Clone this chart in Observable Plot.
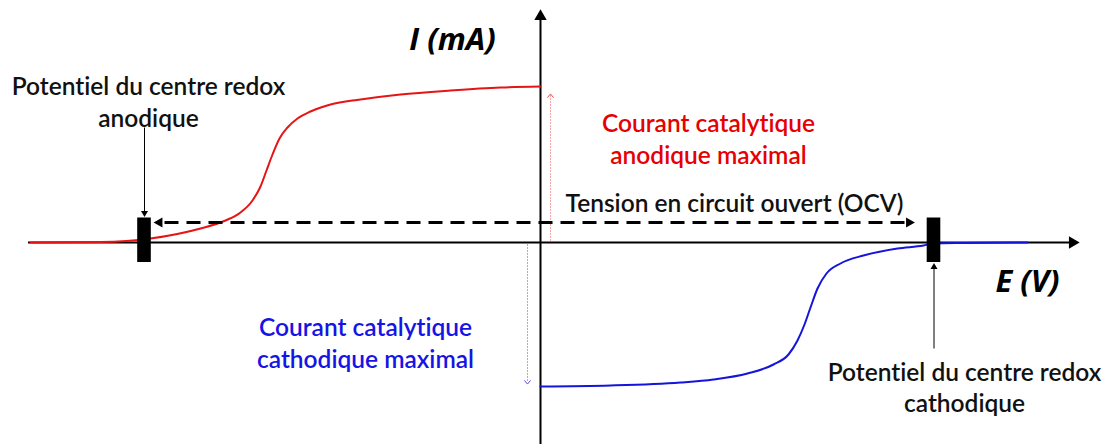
<!DOCTYPE html>
<html>
<head>
<meta charset="utf-8">
<script src="https://cdn.jsdelivr.net/npm/d3@7"></script>
<script src="https://cdn.jsdelivr.net/npm/@observablehq/plot@0.6"></script>
<style>
  html, body { margin: 0; padding: 0; background: #fff; }
  #chart svg { display: block; font-variant-ligatures: none; }
</style>
</head>
<body>
<div id="chart"></div>
<script>
// ---- Data (arbitrary units: E in V-like units, I in mA-like units) ----
// Anodic (red) catalytic wave
const anodicE = [-5.10, -4.40, -3.90, -3.40, -3.15, -3.00, -2.88, -2.80, -2.74, -2.68, -2.61, -2.53, -2.43, -2.30, -2.10, -1.80, -1.40, -0.90, -0.40, 0.00];
const anodicI = [0.00, 0.005, 0.04, 0.14, 0.22, 0.30, 0.42, 0.56, 0.72, 0.88, 1.04, 1.15, 1.24, 1.31, 1.38, 1.43, 1.48, 1.52, 1.55, 1.56];
// Cathodic (blue) catalytic wave
const cathodicE = [0.00, 0.70, 1.40, 1.73, 2.07, 2.33, 2.48, 2.57, 2.64, 2.70, 2.77, 2.86, 3.00, 3.23, 3.57, 3.83, 3.93, 4.23, 4.87];
const cathodicI = [-1.44, -1.43, -1.40, -1.37, -1.31, -1.22, -1.12, -0.98, -0.82, -0.65, -0.46, -0.31, -0.21, -0.13, -0.06, -0.03, -0.01, -0.005, 0.00];
// Redox centre potentials (markers) and OCV arrow level
const redoxPotentials = [-3.96, 3.935];
const ocvLevel = 0.20;
// Maximum catalytic currents
const maxAnodic = 1.47;
const maxCathodic = -1.40;

// Annotation texts
const axisTitles = ["I (mA)", "E (V)"];
const axisTitleE = [-0.88, 4.87];
const axisTitleI = [2.02, -0.40];
const labelTexts = [
  "Potentiel du centre redox\nanodique",
  "Courant catalytique\nanodique maximal",
  "Tension en circuit ouvert (OCV)",
  "Courant catalytique\ncathodique maximal",
  "Potentiel du centre redox\ncathodique"
];
const labelE = [-3.92, 1.68, 1.94, -1.75, 4.24];
const labelI = [1.42, 1.047, 0.407, -0.993, -1.438];
const labelColors = ["#111", "#e60000", "#111", "#1414e6", "#111"];

// ---- Build tables ----
const anodic = anodicE.map((e, i) => ({E: e, I: anodicI[i]}));
const cathodic = cathodicE.map((e, i) => ({E: e, I: cathodicI[i]}));
const labels = labelTexts.map((t, i) => ({t, E: labelE[i], I: labelI[i], c: labelColors[i]}));
const titles = axisTitles.map((t, i) => ({t, E: axisTitleE[i], I: axisTitleI[i]}));

const chevron = {
  draw(ctx, size) {
    const s = Math.sqrt(size) / 2;
    ctx.moveTo(-s, s * 0.7);
    ctx.lineTo(0, -s * 0.5);
    ctx.lineTo(s, s * 0.7);
  }
};

const chart = Plot.plot({
  width: 1109,
  height: 444,
  margin: 0,
  x: {domain: [-5.40, 5.69], axis: null},
  y: {domain: [-2.02, 2.42], axis: null},
  style: {background: "white", fontFamily: "Lato, sans-serif"},
  marks: [
    // dotted max-current arrows
    Plot.link([maxAnodic], {x1: 0.10, x2: 0.10, y1: 0.02, y2: d => d, stroke: "#e85050", strokeWidth: 1, strokeDasharray: "1,2"}),
    Plot.dot([maxAnodic], {x: 0.10, y: d => d, symbol: chevron, r: 3.5, fill: "none", stroke: "#e85050", strokeWidth: 1}),
    Plot.link([maxCathodic], {x1: -0.13, x2: -0.13, y1: -0.02, y2: d => d, stroke: "#5050e0", strokeWidth: 1, strokeDasharray: "1,2"}),
    Plot.dot([maxCathodic], {x: -0.13, y: d => d, symbol: chevron, rotate: 180, r: 3.5, fill: "none", stroke: "#5050e0", strokeWidth: 1}),
    // axes
    Plot.ruleY([0], {x1: -5.12, x2: 5.30, stroke: "#000", strokeWidth: 2}),
    Plot.ruleX([0], {y1: -2.02, y2: 2.26, stroke: "#000", strokeWidth: 2}),
    Plot.dot([0], {x: 5.32, y: 0, symbol: "triangle", rotate: 90, r: 4.6, fill: "#000"}),
    Plot.dot([0], {x: 0, y: 2.26, symbol: "triangle", r: 4.6, fill: "#000"}),
    // curves
    Plot.line(anodic, {x: "E", y: "I", stroke: "#e61414", strokeWidth: 2, curve: "monotone-x"}),
    Plot.line(cathodic, {x: "E", y: "I", stroke: "#1414dc", strokeWidth: 2, curve: "monotone-x"}),
    // OCV dashed double arrow
    Plot.link([ocvLevel], {x1: redoxPotentials[0] + 0.20, x2: redoxPotentials[1] - 0.27, y1: d => d, y2: d => d, stroke: "#000", strokeWidth: 3, strokeDasharray: "14,8"}),
    Plot.dot([ocvLevel], {x: redoxPotentials[0] + 0.15, y: d => d, symbol: "triangle", rotate: -90, r: 3.8, fill: "#000"}),
    Plot.dot([ocvLevel], {x: redoxPotentials[1] - 0.25, y: d => d, symbol: "triangle", rotate: 90, r: 3.8, fill: "#000"}),
    // redox centre markers
    Plot.rect(redoxPotentials, {x1: d => d - 0.068, x2: d => d + 0.068, y1: -0.20, y2: 0.245, fill: "#000"}),
    // pointer arrows from labels
    Plot.link([redoxPotentials[0]], {x1: d => d, x2: d => d, y1: 1.15, y2: 0.30, stroke: "#000", strokeWidth: 1}),
    Plot.dot([redoxPotentials[0]], {x: d => d, y: 0.295, symbol: "triangle", rotate: 180, r: 2.6, fill: "#000"}),
    Plot.link([redoxPotentials[1]], {x1: d => d, x2: d => d, y1: -1.06, y2: -0.25, stroke: "#000", strokeWidth: 1}),
    Plot.dot([redoxPotentials[1]], {x: d => d, y: -0.245, symbol: "triangle", r: 2.6, fill: "#000"}),
    // texts
    Plot.text(labels, {x: "E", y: "I", text: "t", fill: "c", fontSize: 24.5, fontWeight: 600, lineHeight: 1.3, textAnchor: "middle"}),
    Plot.text(titles, {x: "E", y: "I", text: "t", fill: "#000", fontSize: 31, fontWeight: 700, fontStyle: "italic", fontFamily: "'Open Sans', sans-serif", textAnchor: "middle"})
  ]
});
document.getElementById("chart").appendChild(chart);
</script>
</body>
</html>
